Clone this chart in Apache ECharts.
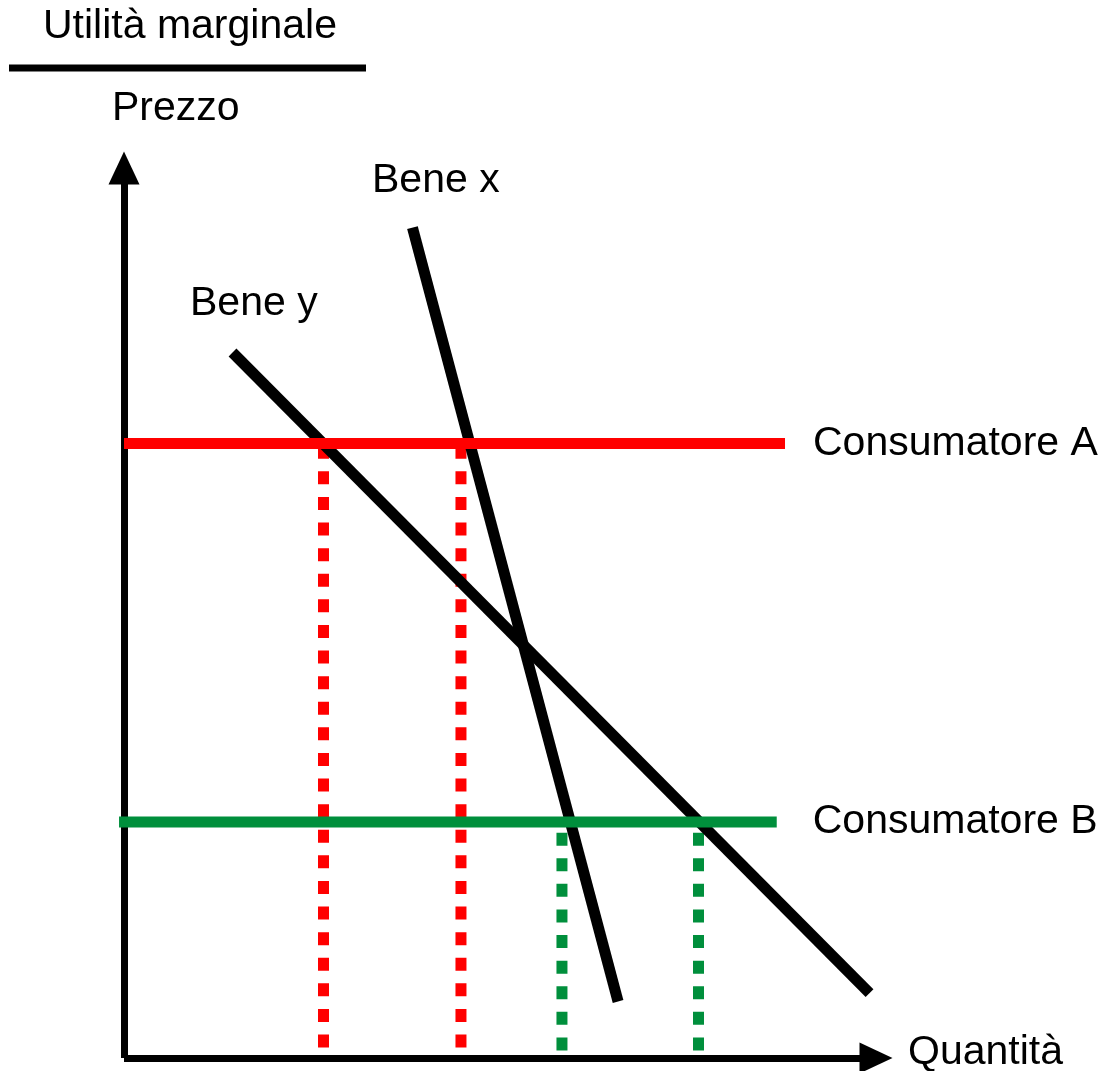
<!DOCTYPE html>
<html>
<head>
    <meta charset="utf-8">
    <title>Utilità marginale</title>
    <script src="https://cdn.jsdelivr.net/npm/echarts@6/dist/echarts.min.js"></script>
    <style>
      body { padding: 0; margin: 0; background: #fff; }
      #main { width: 1113px; height: 1071px; }
    </style>
</head>
<body>
  <div id="main"></div>
  <script type="text/javascript">
    // data (quantità 0..100, prezzo 0..100)
    var beneX = [[38.36, 93.3], [65.7, 6.35]]
    var beneY = [[14.43, 79.27], [99.14, 7.3]]
    var prezzoA = 69.04
    var prezzoB = 26.52
    var lineaA = [[0, prezzoA], [87.9, prezzoA]]
    var lineaB = [[-0.66, prezzoB], [86.8, prezzoB]]
    var quantitaA = [26.53, 44.81]
    var quantitaB = [58.24, 76.4]

    var font = '"Liberation Sans", Arial, sans-serif'
    var fs = 41
    var red = '#ff0000'
    var green = '#008f3c'

    var myChart = echarts.init(document.getElementById('main'))

    var drop = function (q, p, color, offset) {
      return {
        type: 'line',
        data: [[q, p], [q, 0]],
        symbol: 'none',
        silent: true,
        lineStyle: { color: color, width: 11, type: [13, 12.6], dashOffset: offset, cap: 'butt' }
      }
    }

    var series = []
    quantitaA.forEach(function (q) { series.push(drop(q, prezzoA, red, 23.4)) })
    quantitaB.forEach(function (q) { series.push(drop(q, prezzoB, green, 14.9)) })

    series.push({
      name: 'Bene x', type: 'line', data: beneX, symbol: 'none',
      lineStyle: { color: '#000', width: 11, cap: 'butt' }
    })
    series.push({
      name: 'Bene y', type: 'line', data: beneY, symbol: 'none',
      lineStyle: { color: '#000', width: 11, cap: 'butt' }
    })
    series.push({
      name: 'Consumatore A', type: 'line', data: lineaA, symbol: 'none', clip: false,
      lineStyle: { color: red, width: 11, cap: 'butt' },
      endLabel: { show: true, formatter: '{a}', distance: 28, color: '#000', fontSize: fs, fontFamily: font }
    })
    series.push({
      name: 'Consumatore B', type: 'line', data: lineaB, symbol: 'none', clip: false,
      lineStyle: { color: green, width: 11, cap: 'butt' },
      endLabel: { show: true, formatter: '{a}', distance: 36, color: '#000', fontSize: fs, fontFamily: font }
    })

    var axisLine = {
      show: true,
      symbol: ['none', 'triangle'],
      symbolSize: [31, 33],
      lineStyle: { color: '#000', width: 7, cap: 'butt' }
    }

    var txt = function (s, x, y) {
      return { type: 'text', x: x, y: y, style: { text: s, fontSize: fs, fontFamily: font, fill: '#000', align: 'left', verticalAlign: 'middle' } }
    }

    var option = {
      animation: false,
      backgroundColor: '#fff',
      grid: { left: 124, top: 168, width: 752, height: 890, containLabel: false, outerBoundsMode: 'none' },
      xAxis: {
        type: 'value', min: 0, max: 100,
        axisLine: axisLine,
        axisTick: { show: false }, axisLabel: { show: false }, splitLine: { show: false }
      },
      yAxis: {
        type: 'value', min: 0, max: 100,
        axisLine: axisLine,
        axisTick: { show: false }, axisLabel: { show: false }, splitLine: { show: false }
      },
      graphic: [
        txt('Utilità marginale', 43, 27),
        { type: 'line', shape: { x1: 9, y1: 68, x2: 366, y2: 68 }, style: { stroke: '#000', lineWidth: 7 } },
        txt('Prezzo', 112, 109),
        txt('Bene x', 372, 181),
        txt('Bene y', 190, 304),
        txt('Quantità', 908, 1053)
      ],
      series: series
    }
    myChart.setOption(option)
  </script>
</body>
</html>
